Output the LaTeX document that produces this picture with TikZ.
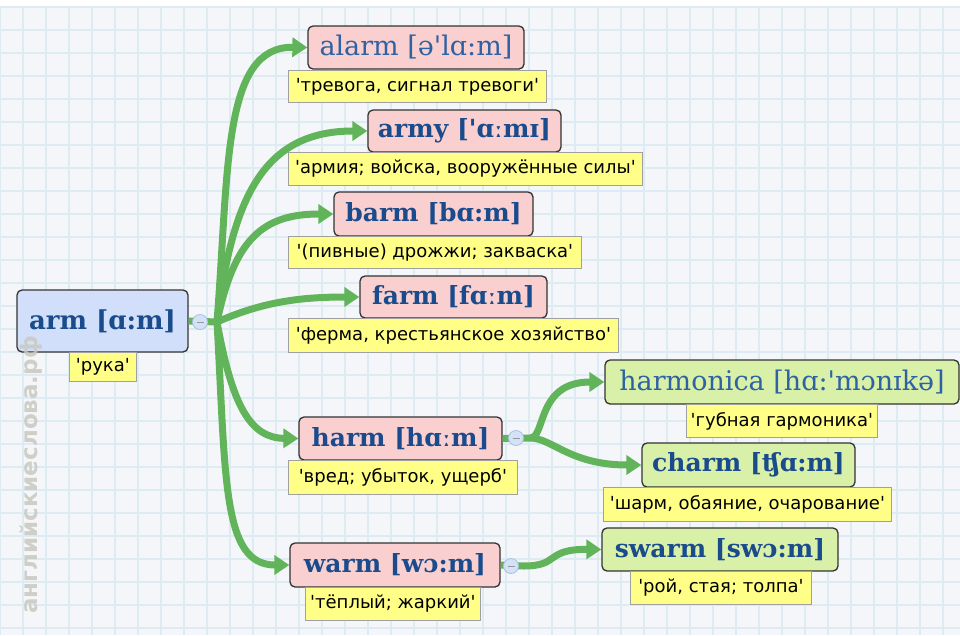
\documentclass[tikz,border=0pt]{standalone}
\usepackage{fontspec}
\setmainfont{DejaVu Sans}[Ligatures=TeXOff]
\newfontfamily\hwfont{DejaVu Serif}[Ligatures=TeXOff]
\usetikzlibrary{arrows.meta}
\definecolor{bgc}{HTML}{F4F6F9}
\definecolor{gridc}{HTML}{DDEBF3}
\definecolor{edgec}{HTML}{62B45A}
\definecolor{pinkc}{HTML}{F9CFCF}
\definecolor{greenc}{HTML}{D8F0A8}
\definecolor{bluec}{HTML}{D2DFFA}
\definecolor{wordc}{HTML}{1A4B8C}
\definecolor{wordl}{HTML}{2F62A3}
\definecolor{labelc}{HTML}{FFFF88}
\definecolor{labeldraw}{HTML}{A0A0A0}
\definecolor{circc}{HTML}{D3E2F6}
\definecolor{circd}{HTML}{A7C1E3}
\definecolor{wmc}{HTML}{C9C9C0}
\tikzset{
  wordbox/.style={draw=black!80, line width=1.3pt, rounded corners=5pt, inner sep=0pt,
    font=\hwfont\fontsize{25}{28}\selectfont\bfseries, text=wordc},
  plainword/.style={font=\hwfont\fontsize{27}{30}\selectfont, text=wordl},
  pinkbox/.style={wordbox, fill=pinkc},
  greenbox/.style={wordbox, fill=greenc},
  bluebox/.style={wordbox, fill=bluec},
  lbl/.style={draw=labeldraw, line width=0.8pt, fill=labelc, inner sep=0pt, anchor=north west,
    font=\fontsize{18}{20}\selectfont, text=black},
  link/.style={draw=edgec, line width=7pt, -{Triangle[length=15pt,width=19pt]}},
  stem/.style={draw=edgec, line width=7pt},
  collapse/.style={circle, draw=circd, fill=circc, line width=0.8pt, minimum size=15pt, inner sep=0pt,
    path picture={\draw[black!40, line width=1pt] ([xshift=-3.5pt]path picture bounding box.center) -- ([xshift=3.5pt]path picture bounding box.center);}},
}
\begin{document}
\begin{tikzpicture}[x=1pt,y=-1pt]
\useasboundingbox (0,0) rectangle (960,635);
% background
\fill[white] (0,0) rectangle (960,635);
\fill[bgc] (0,7) rectangle (960,635);
\foreach \x in {0,23,...,960} \draw[gridc, line width=1.4pt] (\x,7) -- (\x,635);
\foreach \y in {7,30,...,635} \draw[gridc, line width=1.4pt] (0,\y) -- (960,\y);

% nodes
\node[bluebox, minimum width=171pt, minimum height=62pt, font=\hwfont\fontsize{26}{29}\selectfont\bfseries] (arm) at (102.5,321) {arm [ɑ:m]};
\node[pinkbox, plainword, minimum width=216pt, minimum height=43pt] (alarm) at (416,47.5) {alarm [ə'lɑ:m]};
\node[pinkbox, minimum width=193pt, minimum height=42pt] (army) at (464.5,131) {army ['ɑːmɪ]};
\node[pinkbox, minimum width=199pt, minimum height=44pt] (barm) at (433.5,214) {barm [bɑ:m]};
\node[pinkbox, minimum width=187pt, minimum height=42pt] (farm) at (453.5,297) {farm [fɑːm]};
\node[pinkbox, minimum width=203pt, minimum height=43pt] (harm) at (400.5,438.5) {harm [hɑːm]};
\node[greenbox, plainword, minimum width=354pt, minimum height=44pt] (harmonica) at (782,382) {harmonica [hɑ:'mɔnɪkə]};
\node[greenbox, minimum width=213pt, minimum height=44pt] (charm) at (748.5,465) {charm [ʧɑ:m]};
\node[pinkbox, minimum width=210pt, minimum height=44pt] (warm) at (395,565) {warm [wɔ:m]};
\node[greenbox, minimum width=236pt, minimum height=43pt] (swarm) at (720,549.5) {swarm [swɔ:m]};

% labels
\node[lbl, minimum width=67pt, minimum height=29pt] (l-arm) at (69,352) {'рука'};
\node[lbl, minimum width=258pt, minimum height=32pt] (l-alarm) at (288,70) {'тревога, сигнал тревоги'};
\node[lbl, minimum width=354pt, minimum height=33pt] (l-army) at (288,152) {'армия; войска, вооружённые силы'};
\node[lbl, minimum width=293pt, minimum height=32pt] (l-barm) at (288,236) {'(пивные) дрожжи; закваска'};
\node[lbl, minimum width=330pt, minimum height=34pt] (l-farm) at (288,318) {'ферма, крестьянское хозяйство'};
\node[lbl, minimum width=229pt, minimum height=34pt] (l-harm) at (288,460) {'вред; убыток, ущерб'};
\node[lbl, minimum width=191pt, minimum height=33pt] (l-harmonica) at (686,404) {'губная гармоника'};
\node[lbl, minimum width=288pt, minimum height=34pt] (l-charm) at (603,487) {'шарм, обаяние, очарование'};
\node[lbl, minimum width=175pt, minimum height=33pt] (l-warm) at (305,587) {'тёплый; жаркий'};
\node[lbl, minimum width=181pt, minimum height=33pt] (l-swarm) at (630,571) {'рой, стая; толпа'};

% collapse buttons and junctions
\coordinate (c-arm) at (200,322);
\coordinate (c-harm) at (516,438);
\coordinate (c-warm) at (511,566);
\coordinate (j-arm) at (217,322);
\coordinate (j-harm) at (530,438);
\coordinate (j-warm) at (524,566);

% edges
\draw[stem] (arm.east) -- (j-arm);
\draw[link] (j-arm) .. controls (229,170) and (222,46) .. (alarm.west);
\draw[link] (j-arm) .. controls (232,200) and (262,131) .. (army.west);
\draw[link] (j-arm) .. controls (234,240) and (262,214) .. (barm.west);
\draw[link] (j-arm) .. controls (262,302) and (300,297) .. (farm.west);
\draw[link] (j-arm) .. controls (232,405) and (250,438) .. (harm.west);
\draw[link] (j-arm) .. controls (226,480) and (222,565) .. (warm.west);
\draw[stem] (harm.east) -- (j-harm);
\draw[link] (j-harm) .. controls (546,438) and (536,382) .. (harmonica.west);
\draw[link] (j-harm) .. controls (552,438) and (570,465) .. (charm.west);
\draw[stem] (warm.east) -- (j-warm);
\draw[link] (j-warm) .. controls (560,566) and (545,549) .. (swarm.west);

% buttons on top of the stems
\node[collapse] (b-arm) at (c-arm) {};
\node[collapse] (b-harm) at (c-harm) {};
\node[collapse] (b-warm) at (c-warm) {};

% watermark
\node[rotate=90, text=wmc, opacity=0.85, font=\fontsize{23}{26}\selectfont\bfseries, inner sep=0pt] (wm) at (31,475) {английскиеслова.рф};
\end{tikzpicture}
\end{document}
